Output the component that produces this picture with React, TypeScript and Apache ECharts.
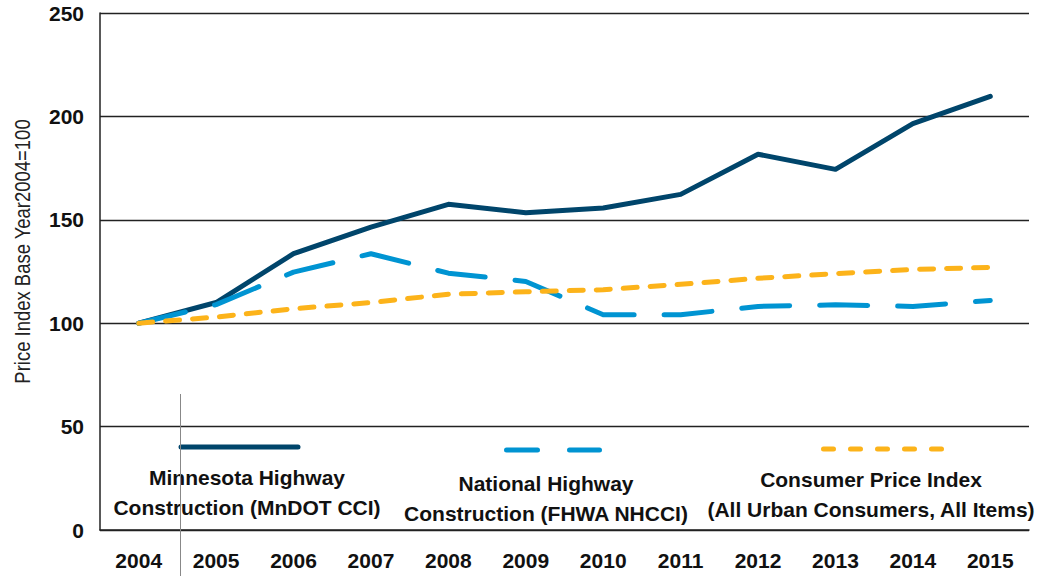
import React, { useEffect, useRef } from "react";
import * as echarts from "echarts";

const years = ["2004", "2005", "2006", "2007", "2008", "2009", "2010", "2011", "2012", "2013", "2014", "2015"];
const mnDotCci = [100, 110, 133.6, 146.5, 157.5, 153.4, 155.7, 162.3, 181.7, 174.4, 196.5, 209.7];
const fhwaNhcci = [100, 109, 124.7, 133.6, 124.2, 120.2, 104.1, 104.1, 108.1, 108.9, 108.1, 111];
const cpi = [100, 103, 107, 110, 114, 115.2, 116.2, 118.8, 121.7, 124, 126, 127];
const seriesNames = [
  "Minnesota Highway\nConstruction (MnDOT CCI)",
  "National Highway\nConstruction (FHWA NHCCI)",
  "Consumer Price Index\n(All Urban Consumers, All Items)",
];
const yAxisName = "Price Index Base Year2004=100";

const FONT = "'Liberation Sans', Arial, sans-serif";
const NAVY = "#00456B";
const BLUE = "#0094D2";
const ORANGE = "#FCB31A";

export default function App() {
  const ref = useRef<HTMLDivElement>(null);
  useEffect(() => {
    if (!ref.current) return;
    const chart = echarts.init(ref.current, null, { renderer: "svg" });
    const legendText = (x: number, y: number, text: string) => ({
      type: "text",
      x,
      y,
      style: {
        text,
        fontFamily: FONT,
        fontWeight: "bold",
        fontSize: 21,
        lineHeight: 30,
        fill: "#111",
        align: "center",
        verticalAlign: "top",
      },
    });
    chart.setOption({
      animation: false,
      backgroundColor: "#fff",
      grid: { left: 100, right: 17, top: 13, bottom: 46, containLabel: false },
      xAxis: {
        type: "category",
        data: years,
        boundaryGap: true,
        axisLine: { show: true, lineStyle: { color: "#222", width: 1.5 } },
        axisTick: { show: false },
        axisLabel: {
          margin: 20,
          fontFamily: FONT,
          fontWeight: "bold",
          fontSize: 21,
          color: "#111",
        },
        splitLine: { show: false },
      },
      yAxis: {
        type: "value",
        min: 0,
        max: 250,
        interval: 50,
        axisLine: { show: true, lineStyle: { color: "#222", width: 1.5 } },
        axisTick: { show: false },
        axisLabel: {
          margin: 16,
          fontFamily: FONT,
          fontWeight: "bold",
          fontSize: 21,
          color: "#111",
          verticalAlign: "middle",
          padding: [17, 0, 0, 0],
        },
        splitLine: { show: true, lineStyle: { color: "#222", width: 1.4 } },
      },
      series: [
        {
          name: seriesNames[0],
          type: "line",
          data: mnDotCci,
          symbol: "none",
          lineStyle: { color: NAVY, width: 5, cap: "round", join: "round" },
        },
        {
          name: seriesNames[1],
          type: "line",
          data: fhwaNhcci,
          symbol: "none",
          lineStyle: { color: BLUE, width: 5, type: [48, 30], cap: "round", join: "round" },
        },
        {
          name: seriesNames[2],
          type: "line",
          data: cpi,
          symbol: "none",
          lineStyle: { color: ORANGE, width: 5, type: [14, 13], cap: "round", join: "round" },
        },
      ],
      graphic: [
        {
          type: "text",
          x: 22,
          y: 251.5,
          rotation: Math.PI / 2,
          scaleX: 0.84,
          style: {
            text: yAxisName,
            fontFamily: FONT,
            fontSize: 22,
            fill: "#222",
            align: "center",
            verticalAlign: "middle",
          },
        },
        {
          type: "line",
          shape: { x1: 180.5, y1: 394, x2: 180.5, y2: 576 },
          style: { stroke: "#888", lineWidth: 1 },
          z: 10,
        },
        {
          type: "line",
          shape: { x1: 181, y1: 447, x2: 298, y2: 447 },
          style: { stroke: NAVY, lineWidth: 5, lineCap: "round" },
        },
        {
          type: "line",
          shape: { x1: 506.5, y1: 450, x2: 599.5, y2: 450 },
          style: { stroke: BLUE, lineWidth: 5, lineCap: "round", lineDash: [31, 32] },
        },
        {
          type: "line",
          shape: { x1: 823.5, y1: 449, x2: 941.5, y2: 449 },
          style: { stroke: ORANGE, lineWidth: 5, lineCap: "round", lineDash: [10, 17] },
        },
        legendText(247, 462.5, seriesNames[0]),
        legendText(546, 468, seriesNames[1]),
        legendText(871, 464, seriesNames[2]),
      ],
    });
    return () => chart.dispose();
  }, []);
  return (
    <div
      ref={ref}
      style={{ position: "fixed", left: 0, top: 0, width: 1046, height: 576 }}
    />
  );
}
